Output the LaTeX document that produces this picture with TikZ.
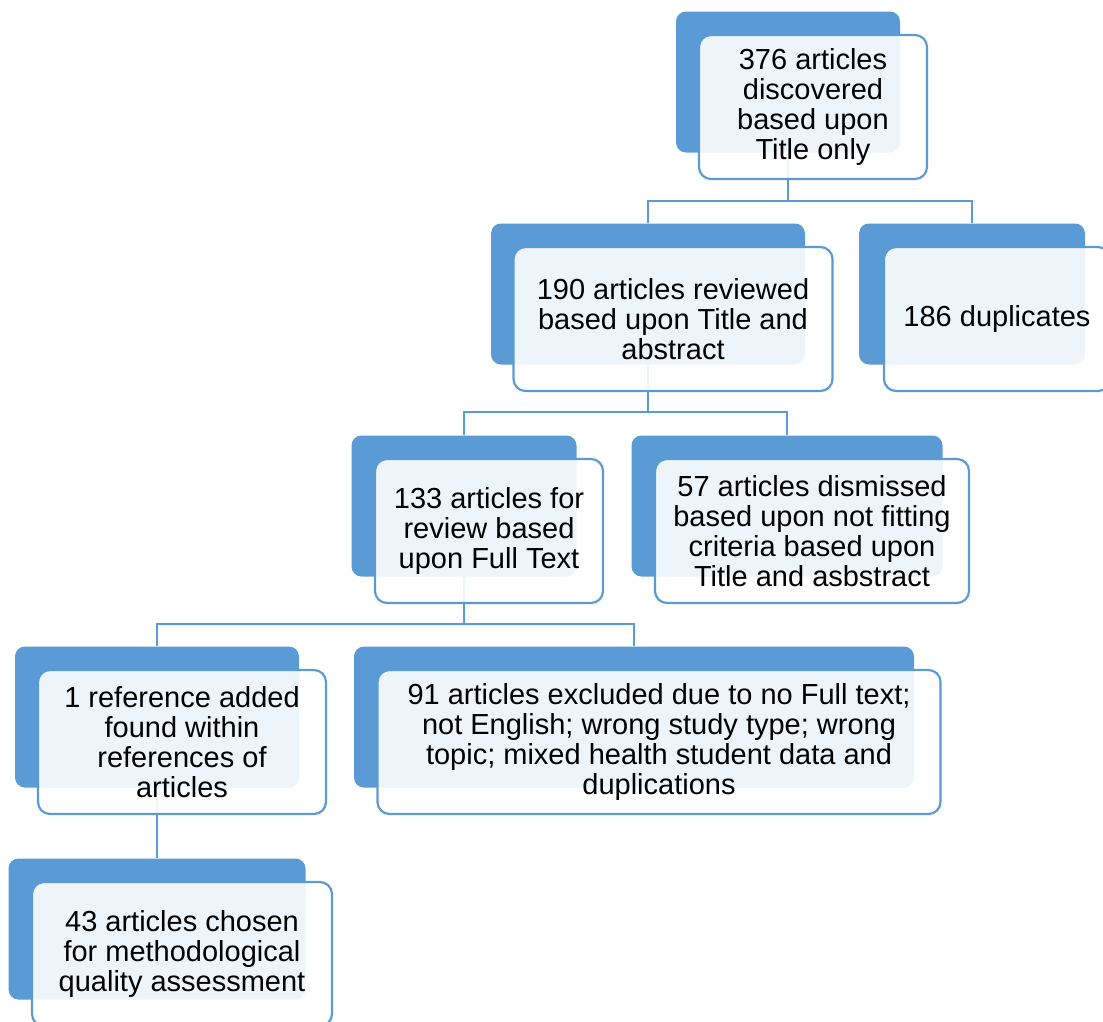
\documentclass[tikz,border=0pt]{standalone}
\usepackage{fontspec}
\setmainfont{Liberation Sans}
\usetikzlibrary{positioning}
\definecolor{stageblue}{RGB}{91,155,213}
\tikzset{back/.style={rectangle, rounded corners=10pt, fill=stageblue, draw=none,
minimum height=141pt, inner sep=0pt},
front/.style={rectangle, rounded corners=12pt, draw=stageblue, line width=2.2pt,
fill=white, fill opacity=0.9, text opacity=1, minimum height=144pt,
align=center, inner sep=2pt, font=\fontsize{29}{30}\selectfont},
link/.style={draw=stageblue, line width=2.2pt}}

\begin{document}
\begin{tikzpicture}[x=1pt,y=-1pt]
  \useasboundingbox (0,0) rectangle (1103,1021);
  % back panels
  \node (b376) [back, minimum width=224pt] at (788,82) {};
  \node (b190) [back, minimum width=314pt] at (648,294) {};
  \node (b186) [back, minimum width=226pt] at (972,294) {};
  \node (b133) [back, minimum width=225pt] at (464,506) {};
  \node (b57) [back, minimum width=311pt] at (787,506) {};
  \node (bref) [back, minimum width=284pt] at (157,717) {};
  \node (b91) [back, minimum width=560pt] at (634,717) {};
  \node (b43) [back, minimum width=297pt] at (157,929) {};
  % links
  \draw [link] (b376.south) -- ++(0,48) -| (b190.north);
  \draw [link] (b376.south) -- ++(0,48) -| (b186.north);
  \draw [link] (b190.south) -- ++(0,47) -| (b133.north);
  \draw [link] (b190.south) -- ++(0,47) -| (b57.north);
  \draw [link] (b133.south) -- ++(0,47) -| (bref.north);
  \draw [link] (b133.south) -- ++(0,47) -| (b91.north);
  \draw [link] (bref.south) -- (b43.north);
  % front panels
  \node (f376) [front, minimum width=228pt] at ([shift={(25,25)}]b376.center)
    {376 articles\\discovered\\based upon\\Title only};
  \node (f190) [front, minimum width=319pt] at ([shift={(25,25)}]b190.center)
    {190 articles reviewed\\based upon Title and\\abstract};
  \node (f186) [front, minimum width=226pt] at ([shift={(25,25)}]b186.center)
    {186 duplicates};
  \node (f133) [front, minimum width=228pt] at ([shift={(25,25)}]b133.center)
    {133 articles for\\review based\\upon Full Text};
  \node (f57) [front, minimum width=314pt] at ([shift={(25,25)}]b57.center)
    {57 articles dismissed\\based upon not fitting\\criteria based upon\\Title and asbstract};
  \node (fref) [front, minimum width=288pt] at ([shift={(25,25)}]bref.center)
    {1 reference added\\found within\\references of\\articles};
  \node (f91) [front, minimum width=563pt] at ([shift={(25,25)}]b91.center)
    {91 articles excluded due to no Full text;\\not English; wrong study type; wrong\\topic; mixed health student data and\\duplications};
  \node (f43) [front, minimum width=300pt] at ([shift={(25,25)}]b43.center)
    {43 articles chosen\\for methodological\\quality assessment};
\end{tikzpicture}
\end{document}
